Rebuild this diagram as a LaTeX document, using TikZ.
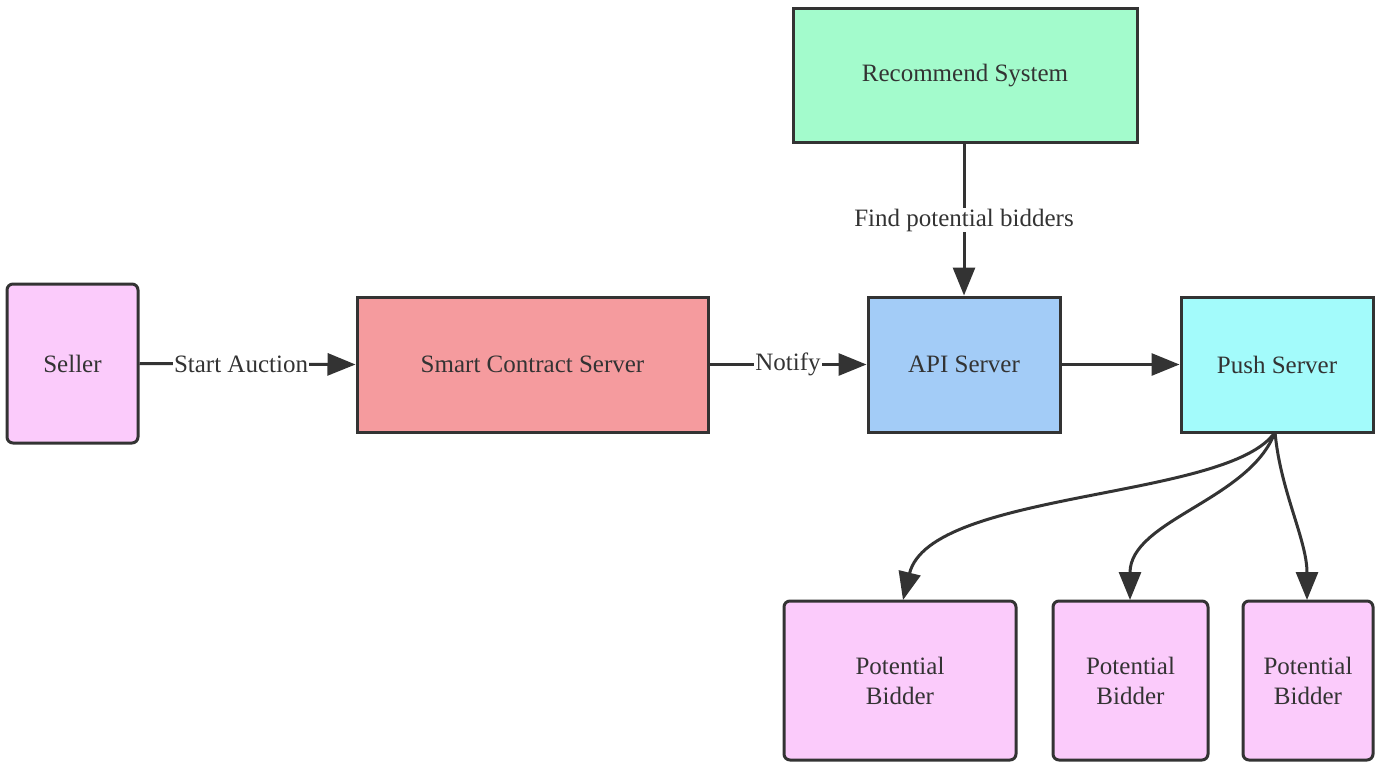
\documentclass[tikz,border=0pt]{standalone}
\usepackage{fontspec}
\setmainfont{Liberation Serif}
\usetikzlibrary{arrows.meta}
\definecolor{edge}{HTML}{333333}
\definecolor{pinkfill}{HTML}{FBCBFB}
\definecolor{redfill}{HTML}{F59B9E}
\definecolor{bluefill}{HTML}{A3CCF7}
\definecolor{cyanfill}{HTML}{A3FBFB}
\definecolor{greenfill}{HTML}{A3FBCC}
\begin{document}
\begin{tikzpicture}[x=1pt,y=-1pt,
  box/.style={draw=edge,line width=3pt,inner sep=0pt,font=\fontsize{25}{30}\selectfont,text=edge,align=center},
  rbox/.style={box,rounded corners=6pt},
  conn/.style={draw=edge,line width=3pt,-{Triangle[length=28pt,width=22pt]}},
  lbl/.style={fill=white,inner sep=1pt,font=\fontsize{25}{30}\selectfont,text=edge}]
\useasboundingbox (0,0) rectangle (1388,778);
\node[rbox,fill=pinkfill,minimum width=131pt,minimum height=159pt] (seller) at (72.5,363.5) {Seller};
\node[box,fill=redfill,minimum width=351pt,minimum height=135pt] (scs) at (532.5,364.5) {Smart Contract Server};
\node[box,fill=bluefill,minimum width=192pt,minimum height=135pt] (api) at (964,364.5) {API Server};
\node[box,fill=cyanfill,minimum width=192pt,minimum height=135pt] (push) at (1277,364.5) {Push Server};
\node[box,fill=greenfill,minimum width=344pt,minimum height=134pt] (rec) at (965,76) {Recommend System};
\node[rbox,fill=pinkfill,minimum width=232pt,minimum height=159pt] (b1) at (900,680.5) {Potential\\Bidder};
\node[rbox,fill=pinkfill,minimum width=155pt,minimum height=159pt] (b2) at (1130.5,680.5) {Potential\\Bidder};
\node[rbox,fill=pinkfill,minimum width=130pt,minimum height=159pt] (b3) at (1308,680.5) {Potential\\Bidder};
\draw[conn] (seller.east) -- node[lbl,pos=0.47] {Start Auction} (scs.west);
\draw[conn] (scs.east) -- node[lbl,pos=0.5] {Notify} (api.west);
\draw[conn] (api.east) -- (push.west);
\draw[conn] (rec.south -| api.north) -- node[lbl,pos=0.5] {Find potential bidders} (api.north);
\coordinate (ps) at (1275,432);
\draw[conn] (ps) .. controls (1230,500) and (930,490) .. (903,600);
\draw[conn] (ps) .. controls (1250,500) and (1130,520) .. (1130,600);
\draw[conn] (ps) .. controls (1280,490) and (1307,540) .. (1307,600);
\end{tikzpicture}
\end{document}
